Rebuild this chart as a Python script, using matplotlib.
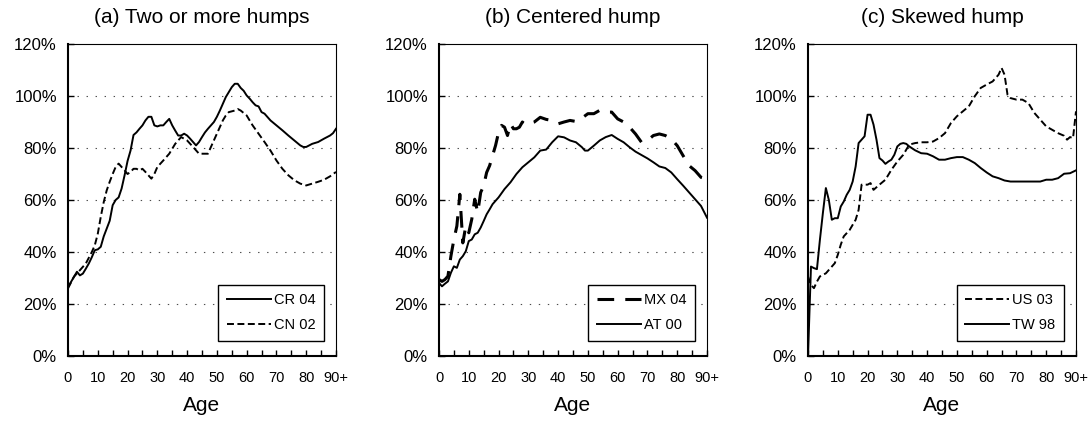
import matplotlib
matplotlib.use("Agg")
import matplotlib.pyplot as plt

# ---- data (age, percent) ----
titles = ["(a) Two or more humps", "(b) Centered hump", "(c) Skewed hump"]
xtick_vals = [0, 10, 20, 30, 40, 50, 60, 70, 80, 90]
xtick_labels = ["0", "10", "20", "30", "40", "50", "60", "70", "80", "90+"]
ytick_vals = [0, 20, 40, 60, 80, 100, 120]

# (a)
cr04_age = [0, 3, 4, 5, 6, 7, 8, 9, 10, 11, 12, 13, 14, 15, 16, 17, 18, 19, 20,
            21, 22, 23, 24, 25, 26, 27, 28, 29, 30, 31, 32, 33, 34, 35, 36, 37,
            38, 39, 40, 41, 42, 43, 44, 45, 46, 47, 48, 49, 50, 51, 52, 53, 54,
            55, 56, 57, 58, 59, 60, 61, 62, 63, 64, 65, 66, 67, 68, 70, 72, 74,
            76, 78, 79, 80, 82, 84, 86, 88, 89, 90]
cr04 = [26.5, 32.4, 31.0, 31.7, 33.6, 35.6, 38.0, 40.7, 41.0, 42.0, 46.0, 49.0,
        52.0, 58.0, 60.0, 61.0, 64.4, 69.5, 75.0, 79.0, 85.0, 86.0, 87.4, 88.7,
        90.6, 92.0, 92.0, 88.7, 88.3, 88.7, 88.7, 90.0, 91.2, 88.7, 86.7, 84.8,
        84.8, 85.5, 84.8, 83.6, 82.3, 81.0, 82.3, 84.2, 86.0, 87.4, 88.7, 90.0,
        92.0, 94.4, 97.0, 99.6, 101.5, 103.4, 104.7, 104.7, 103.1, 102.0, 100.2,
        99.0, 97.6, 96.4, 96.0, 93.8, 93.2, 91.9, 90.6, 88.7, 86.8, 84.8, 82.9,
        81.0, 80.4, 80.4, 81.6, 82.3, 83.6, 84.8, 85.7, 87.4]
cn02_age = [0, 2, 4, 6, 8, 9, 10, 11, 12, 13, 14, 15, 16, 17, 18, 19, 20, 21,
            22, 23, 24, 25, 26, 27, 28, 29, 30, 32, 34, 36, 38, 40, 42, 44, 46,
            47, 48, 50, 52, 53, 54, 56, 57, 58, 60, 62, 64, 66, 68, 70, 72, 74,
            76, 78, 80, 82, 84, 86, 88, 90]
cn02 = [26.0, 30.5, 33.0, 35.6, 40.0, 42.6, 47.0, 53.5, 59.2, 63.7, 67.0, 70.0,
        72.7, 74.0, 72.7, 71.4, 70.0, 70.8, 72.0, 72.0, 71.4, 72.0, 70.8, 69.5,
        68.2, 70.0, 72.7, 75.2, 77.8, 81.6, 84.2, 82.9, 80.4, 77.8, 77.8, 77.8,
        80.4, 85.5, 90.6, 92.5, 93.8, 94.4, 95.0, 94.4, 92.5, 88.7, 85.5, 82.3,
        79.0, 75.2, 72.0, 69.5, 67.6, 66.3, 65.6, 66.3, 67.0, 67.8, 69.1, 70.8]

# (b)
mx04_age = [0, 1, 2, 3, 4, 5, 6, 7, 8, 9, 10, 11, 12, 13, 14, 15, 16, 17, 18,
            19, 20, 21, 22, 23, 24, 25, 26, 27, 28, 29, 30, 32, 34, 36, 38, 40,
            42, 44, 46, 48, 50, 52, 54, 56, 58, 60, 62, 64, 66, 68, 70, 72, 74,
            76, 78, 80, 82, 84, 86, 88, 90]
mx04 = [29.4, 28.7, 29.4, 30.7, 38.4, 44.8, 50.0, 62.2, 43.5, 50.0, 47.4, 52.6,
        60.3, 55.2, 62.9, 65.5, 70.6, 73.2, 77.1, 81.0, 86.0, 88.7, 88.0, 84.8,
        89.3, 87.4, 87.4, 88.0, 90.0, 89.0, 89.3, 90.0, 91.8, 91.0, 90.6, 89.3,
        90.0, 90.6, 90.2, 91.5, 93.2, 93.2, 94.5, 93.8, 93.8, 91.2, 90.0, 88.0,
        85.4, 82.2, 82.9, 84.8, 85.4, 84.8, 83.5, 80.9, 77.0, 73.2, 71.3, 68.7,
        68.0]
at00_age = [0, 1, 2, 3, 4, 5, 6, 7, 8, 9, 10, 11, 12, 13, 14, 15, 16, 17, 18,
            20, 22, 24, 26, 28, 30, 32, 34, 36, 38, 40, 42, 44, 46, 48, 49, 50,
            52, 54, 56, 58, 60, 62, 64, 66, 68, 70, 72, 74, 76, 78, 80, 82, 84,
            86, 88, 90]
at00 = [28.1, 26.8, 27.8, 28.7, 32.0, 34.5, 33.9, 37.1, 38.4, 40.3, 44.2, 44.8,
        46.8, 47.4, 49.4, 51.9, 54.5, 56.4, 58.4, 61.0, 64.2, 66.8, 70.0, 72.6,
        74.5, 76.4, 79.0, 79.4, 82.2, 84.5, 84.1, 82.9, 82.2, 80.3, 79.0, 79.0,
        80.9, 82.9, 84.2, 85.0, 83.5, 82.2, 80.3, 78.6, 77.3, 76.0, 74.5, 72.9,
        72.3, 70.6, 68.0, 65.5, 62.9, 60.3, 57.7, 53.2]

# (c)
us03_age = [0, 1, 2, 3, 4, 6, 8, 9, 10, 11, 12, 14, 16, 17, 18, 20, 21, 22, 24,
            26, 28, 30, 32, 34, 36, 38, 40, 42, 44, 46, 48, 50, 52, 54, 56, 58,
            60, 62, 64, 65, 66, 67, 68, 70, 72, 74, 76, 78, 80, 82, 84, 86, 87,
            88, 89, 90]
us03 = [30.6, 27.3, 26.1, 28.6, 30.6, 31.8, 34.4, 35.7, 38.9, 42.8, 46.0, 48.5,
        52.4, 56.2, 65.9, 65.9, 66.5, 63.9, 65.9, 67.8, 71.6, 74.8, 77.4, 81.3,
        81.9, 82.2, 82.2, 82.5, 83.8, 85.7, 89.6, 92.2, 94.1, 96.0, 99.9, 103.1,
        104.4, 105.6, 108.2, 110.8, 108.2, 100.5, 99.2, 98.6, 98.6, 97.3, 93.5,
        90.9, 88.3, 87.0, 85.7, 84.7, 83.2, 84.2, 83.8, 94.1]
tw98_age = [0, 1, 2, 3, 4, 5, 6, 7, 8, 9, 10, 11, 12, 13, 14, 15, 16, 17, 18,
            19, 20, 21, 22, 23, 24, 25, 26, 27, 28, 29, 30, 31, 32, 33, 34, 36,
            38, 40, 42, 44, 46, 48, 50, 52, 54, 56, 58, 60, 62, 64, 66, 68, 70,
            74, 78, 80, 82, 84, 86, 88, 90]
tw98 = [0.0, 34.4, 33.8, 33.4, 44.7, 55.0, 64.6, 60.0, 52.4, 53.0, 53.0, 57.5,
        59.4, 62.0, 63.9, 67.1, 72.9, 81.9, 83.2, 84.5, 92.8, 92.8, 89.0, 83.2,
        76.1, 75.2, 73.9, 74.8, 75.5, 77.4, 80.6, 81.6, 81.9, 81.6, 80.6, 79.1,
        78.0, 77.8, 76.8, 75.5, 75.5, 76.1, 76.5, 76.5, 75.5, 74.2, 72.3, 70.6,
        69.1, 68.4, 67.5, 67.1, 67.1, 67.1, 67.1, 67.8, 67.8, 68.4, 70.1, 70.3,
        71.4]

SOLID = dict(linestyle="-", linewidth=1.4)
SHORT_DASH = dict(linestyle=(0, (5, 2.5)), linewidth=1.4)
LONG_DASH = dict(linestyle=(0, (12, 8)), linewidth=2.2)

panels = [
    [("CR 04", cr04_age, cr04, SOLID), ("CN 02", cn02_age, cn02, SHORT_DASH)],
    [("MX 04", mx04_age, mx04, LONG_DASH), ("AT 00", at00_age, at00, SOLID)],
    [("US 03", us03_age, us03, SHORT_DASH), ("TW 98", tw98_age, tw98, SOLID)],
]

plt.rcParams["font.family"] = ["Liberation Sans", "DejaVu Sans"]
plt.rcParams["lines.scale_dashes"] = False

fig = plt.figure(figsize=(10.88, 4.22), dpi=100)
lefts = [68, 439, 808]
W, H = 1088.0, 422.0
for i, (left, series) in enumerate(zip(lefts, panels)):
    ax = fig.add_axes([left / W, 1 - 356 / H, 268 / W, (356 - 44) / H])
    for label, x, y, style in series:
        ax.plot(x, y, color="black", label=label, **style)

    ax.set_xlim(0, 90)
    ax.set_ylim(0, 120)
    ax.set_xticks(xtick_vals)
    ax.set_xticklabels(xtick_labels)
    ax.set_xticks(range(5, 90, 10), minor=True)
    ax.set_yticks(ytick_vals)
    ax.set_yticklabels([f"{v}%" for v in ytick_vals])
    ax.tick_params(axis="x", which="both", direction="in", length=4,
                   width=1.0, labelsize=10.5, pad=11)
    ax.tick_params(axis="y", direction="in", length=4, width=1.0,
                   labelsize=12, pad=8)

    for v in ytick_vals[1:-1]:
        ax.axhline(v, color="0.3", linewidth=0.8,
                   linestyle=(0, (1, 5.5)), zorder=0)

    for side in ("left", "bottom"):
        ax.spines[side].set_linewidth(1.5)
    for side in ("top", "right"):
        ax.spines[side].set_linewidth(0.8)

    ax.set_title(titles[i], fontsize=15, pad=15)
    ax.set_xlabel("Age", fontsize=15, labelpad=8)

    leg = ax.legend(loc="lower right", bbox_to_anchor=(0.955, 0.048),
                    fontsize=10.5, handlelength=3.0, handletextpad=0.2,
                    borderpad=0.6, labelspacing=0.75, fancybox=False,
                    framealpha=1, edgecolor="black", borderaxespad=0)
    leg.get_frame().set_linewidth(1.0)

fig.savefig("out.png", dpi=100)
